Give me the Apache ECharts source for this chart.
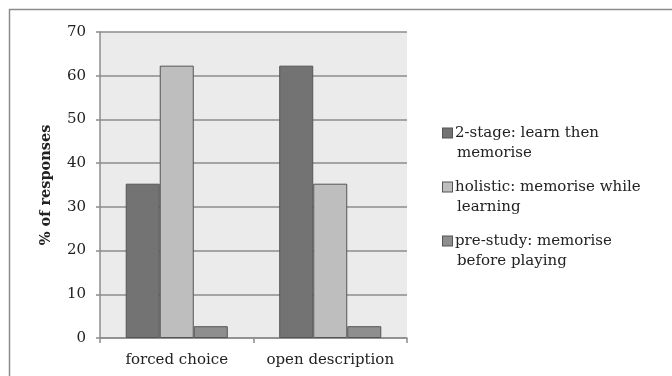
<!DOCTYPE html>
<html>
<head>
<meta charset="utf-8">
<script src="https://cdn.jsdelivr.net/npm/echarts@6/dist/echarts.min.js"></script>
<style>
  html, body { margin: 0; padding: 0; background: #ffffff; }
  #chart { width: 672px; height: 376px; }
</style>
</head>
<body>
<div id="chart"></div>
<script>
// Response categories on the x axis
const categories = ['forced choice', 'open description'];

// Strategy series (percentage of responses)
const seriesNames = [
  '2-stage: learn then\nmemorise',
  'holistic: memorise while\nlearning',
  'pre-study: memorise\nbefore playing'
];
const twoStage = [35.3, 62.3];
const holistic = [62.3, 35.3];
const preStudy = [2.7, 2.7];

const yTicks = [0, 10, 20, 30, 40, 50, 60, 70];

const seriesColors = ['#737373', '#bebebe', '#8e8e8e'];
const serif = '"DejaVu Serif", "Liberation Serif", serif';

const chart = echarts.init(document.getElementById('chart'), null, { renderer: 'canvas' });

// Legend rich styles: a coloured square on the first line, indented continuation line
const rich = {
  t: { fontFamily: serif, fontSize: 15, color: '#222', lineHeight: 20 },
  sp: { width: 14, height: 10 }
};
seriesColors.forEach((c, i) => {
  rich['sq' + i] = {
    width: 9, height: 9, backgroundColor: c,
    borderColor: '#555', borderWidth: 1
  };
  rich['gap' + i] = { width: 3 };
});

const values = [twoStage, holistic, preStudy];

chart.setOption({
  animation: false,
  backgroundColor: '#ffffff',
  grid: { left: 100, right: 265, top: 32, bottom: 38, show: true, backgroundColor: '#ebebeb', borderWidth: 0 },
  graphic: [{
    type: 'rect',
    shape: { x: 9.5, y: 9.5, width: 700, height: 400 },
    style: { fill: 'none', stroke: '#8c8c8c', lineWidth: 1.5 },
    silent: true
  }],
  legend: {
    orient: 'vertical',
    left: 432,
    top: 118,
    itemWidth: 0,
    itemHeight: 0,
    itemGap: 14,
    itemStyle: { opacity: 0 },
    selectedMode: false,
    data: seriesNames,
    formatter: function (name) {
      const i = seriesNames.indexOf(name);
      const lines = name.split('\n');
      return '{sq' + i + '|}{gap' + i + '|}{t|' + lines[0] + '}\n{sp|}{t|' + lines[1] + '}';
    },
    textStyle: { rich: rich, fontFamily: serif, fontSize: 15, lineHeight: 20 }
  },
  xAxis: {
    type: 'category',
    data: categories,
    axisLine: { lineStyle: { color: '#8c8c8c', width: 1.5 } },
    axisTick: { show: true, length: 5, lineStyle: { color: '#8c8c8c', width: 1.5 } },
    axisLabel: { interval: 0, fontFamily: serif, fontSize: 15, color: '#222', margin: 15 },
    splitLine: { show: false }
  },
  yAxis: {
    type: 'value',
    min: 0,
    max: yTicks[yTicks.length - 1],
    interval: yTicks[1] - yTicks[0],
    name: '% of responses',
    nameLocation: 'middle',
    nameGap: 46,
    nameRotate: 90,
    nameTextStyle: { fontFamily: serif, fontSize: 14.5, fontWeight: 'bold', color: '#222' },
    axisLine: { show: true, lineStyle: { color: '#8c8c8c', width: 1.5 } },
    axisTick: { show: true, length: 4, inside: false, lineStyle: { color: '#8c8c8c', width: 1.5 } },
    axisLabel: { fontFamily: serif, fontSize: 15, color: '#222', margin: 14 },
    splitLine: { show: true, lineStyle: { color: '#8c8c8c', width: 1.5 } }
  },
  series: seriesNames.map((name, i) => ({
    name: name,
    type: 'bar',
    data: values[i],
    barGap: '0%',
    barCategoryGap: '33.5%',
    itemStyle: { color: seriesColors[i], borderColor: '#555555', borderWidth: 1 }
  }))
});
</script>
</body>
</html>
